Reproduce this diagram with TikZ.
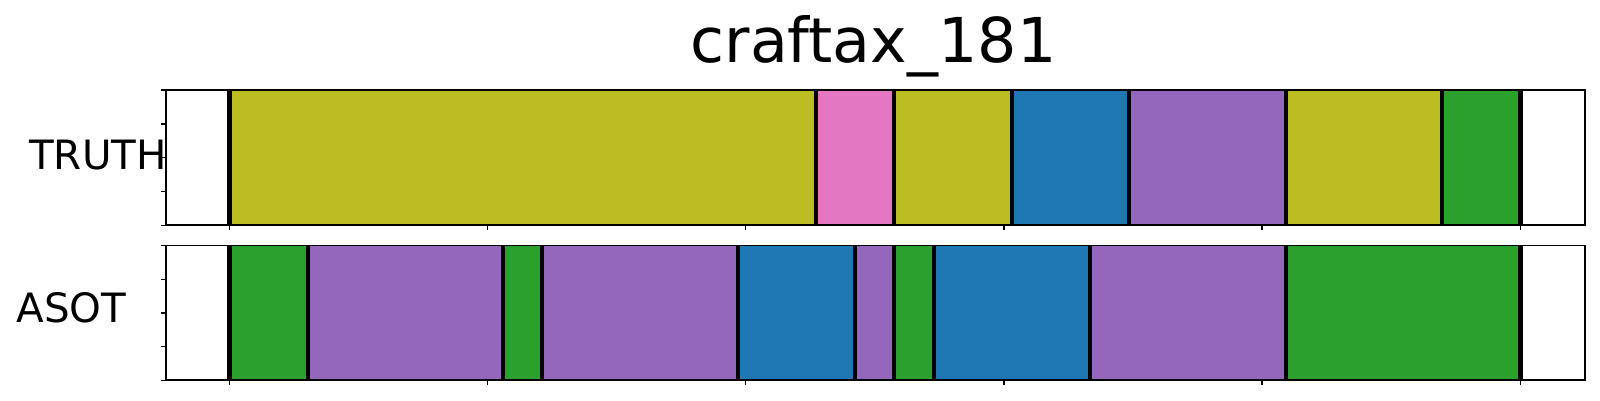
\documentclass[tikz,border=0pt]{standalone}
\usepackage{fontspec}
\setmainfont{DejaVu Sans}
\definecolor{tabolive}{HTML}{BCBD22}
\definecolor{tabpink}{HTML}{E377C2}
\definecolor{tabblue}{HTML}{1F77B4}
\definecolor{tabpurple}{HTML}{9467BD}
\definecolor{tabgreen}{HTML}{2CA02C}
\begin{document}
\begin{tikzpicture}[
    bound/.style={line width=1.25pt},
    frame/.style={line width=0.55pt},
    tickmark/.style={line width=0.4pt},
    lab/.style={font=\fontsize{11.5}{13}\selectfont, inner sep=0pt, anchor=base}]
    \useasboundingbox (0,0) rectangle (16,4);
    % TRUTH row
    \foreach \a/\b/\c in {2.293/8.16/tabolive, 8.16/8.937/tabpink, 8.937/10.12/tabolive, 10.12/11.29/tabblue,
        11.29/12.86/tabpurple, 12.86/14.42/tabolive, 14.42/15.204/tabgreen}
        \fill[\c] (\a,1.747) rectangle (\b,3.10);
    \foreach \x in {2.293, 8.16, 8.937, 10.12, 11.29, 12.86, 14.42, 15.204}
        \draw[bound] (\x,1.747) -- (\x,3.10);
    % ASOT row
    \foreach \a/\b/\c in {2.293/3.077/tabgreen, 3.077/5.027/tabpurple, 5.027/5.42/tabgreen, 5.42/7.377/tabpurple,
        7.377/8.547/tabblue, 8.547/8.937/tabpurple, 8.937/9.337/tabgreen, 9.337/10.897/tabblue,
        10.897/12.86/tabpurple, 12.86/15.204/tabgreen}
        \fill[\c] (\a,0.197) rectangle (\b,1.545);
    \foreach \x in {2.293, 3.077, 5.027, 5.42, 7.377, 8.547, 8.937, 9.337, 10.897, 12.86, 15.204}
        \draw[bound] (\x,0.197) -- (\x,1.545);
    % frames and ticks
    \draw[frame] (1.657,1.747) rectangle (15.853,3.10);
    \draw[frame] (1.657,0.197) rectangle (15.853,1.545);
    \foreach \k in {0,...,5} {
        \draw[tickmark] (2.293+2.582*\k,1.747) -- ++(0,-0.05);
        \draw[tickmark] (2.293+2.582*\k,0.197) -- ++(0,-0.05);
    }
    \foreach \k in {0,...,4} {
        \draw[tickmark] (1.657,1.747+0.33825*\k) -- ++(-0.05,0);
        \draw[tickmark] (1.657,0.197+0.337*\k) -- ++(-0.05,0);
    }
    \node[lab, font=\fontsize{17.6}{20}\selectfont] (title) at (8.735,3.38) {craftax\_181};
    \node[lab] (truth) at (0.98,2.31) {TRUTH};
    \node[lab] (asot) at (0.715,0.773) {ASOT};
\end{tikzpicture}
\end{document}
